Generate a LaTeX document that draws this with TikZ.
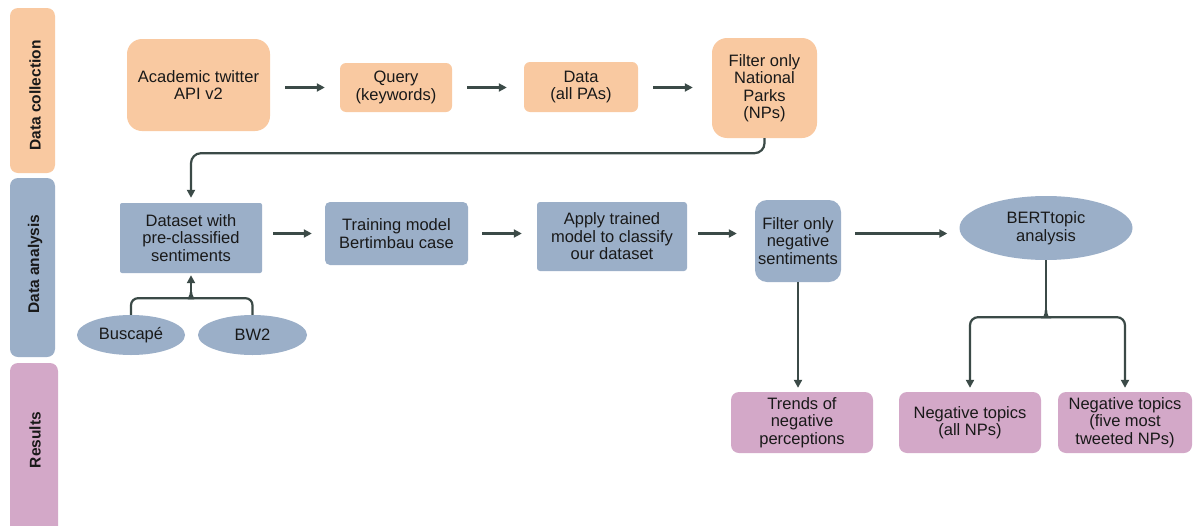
\documentclass[tikz,border=0pt]{standalone}
\usepackage{fontspec}
\setmainfont{Liberation Sans}
\usetikzlibrary{arrows.meta,shapes.geometric,calc}
\definecolor{corange}{HTML}{F9C9A1}
\definecolor{cblue}{HTML}{9BAFC8}
\definecolor{cpink}{HTML}{D3A8C8}
\definecolor{cline}{HTML}{3B4A47}
\begin{document}
\begin{tikzpicture}[x=1pt,y=-1pt,
  nbox/.style={draw=none, align=center, inner sep=0pt, font=\fontsize{16.5}{17.5}\selectfont, text=black!90},
  obox/.style={nbox, fill=corange},
  bbox/.style={nbox, fill=cblue},
  pbox/.style={nbox, fill=cpink},
  lanetext/.style={font=\fontsize{15.5}{18}\selectfont\bfseries, rotate=90, text=black!90},
  lnk/.style={draw=cline, line width=2.2pt},
  conn/.style={lnk, -{Triangle[length=8pt,width=8pt]}},
]
\useasboundingbox (0,0) rectangle (1194,525);
\fill[white] (0,0) rectangle (1194,525);

% lanes
\fill[corange, rounded corners=8] (10,8) rectangle (55,173);
\fill[cblue, rounded corners=8] (10,178) rectangle (55,357);
\fill[cpink, rounded corners=8] (10,363) rectangle (58,545);
\node[lanetext] (lcol) at (35,95.5) {Data collection};
\node[lanetext] (lana) at (35,264) {Data analysis};
\node[lanetext] (lres) at (35,440) {Results};

% top row
\node[obox, rounded corners=15pt, minimum width=143pt, minimum height=92pt] (acad) at (198.5,85) {Academic twitter\\API v2};
\node[obox, rounded corners=6pt, minimum width=112pt, minimum height=49pt] (query) at (396,87.5) {Query\\(keywords)};
\node[obox, rounded corners=6pt, minimum width=114pt, minimum height=50pt] (data) at (581,87) {Data\\(all PAs)};
\node[obox, rounded corners=15pt, minimum width=105pt, minimum height=100pt] (filtnp) at (764.5,88) {Filter only\\National\\Parks\\(NPs)};

% middle row
\node[bbox, rounded corners=2pt, minimum width=142pt, minimum height=70pt] (dataset) at (191,238) {Dataset with\\pre-classified\\sentiments};
\node[bbox, rounded corners=5pt, minimum width=143pt, minimum height=63pt] (train) at (396.5,233.5) {Training model\\Bertimbau case};
\node[bbox, rounded corners=3pt, minimum width=150pt, minimum height=69pt] (apply) at (612,236.5) {Apply trained\\model to classify\\our dataset};
\node[bbox, rounded corners=12pt, minimum width=86pt, minimum height=82pt] (filtneg) at (798,241) {Filter only\\negative\\sentiments};
\node[bbox, ellipse, minimum width=173pt, minimum height=64pt] (bert) at (1046,228) {BERTtopic\\analysis};
\node[bbox, ellipse, minimum width=108pt, minimum height=40pt] (busc) at (131,335) {Buscapé};
\node[bbox, ellipse, minimum width=109pt, minimum height=40pt] (bw2) at (252.5,335) {BW2};

% results row
\node[pbox, rounded corners=8pt, minimum width=142pt, minimum height=61pt] (trends) at (802,422.5) {Trends of\\negative\\perceptions};
\node[pbox, rounded corners=8pt, minimum width=142pt, minimum height=61pt] (negall) at (970,422.5) {Negative topics\\(all NPs)};
\node[pbox, rounded corners=8pt, minimum width=134pt, minimum height=61pt] (negfive) at (1125,422.5) {Negative topics\\(five most\\tweeted NPs)};

% top row arrows
\draw[conn, shorten <=15pt, shorten >=15pt] (acad.east |- query) -- (query.west);
\draw[conn, shorten <=15pt, shorten >=17pt] (query.east) -- (data.west |- query);
\draw[conn, shorten <=15pt, shorten >=19pt] (data.east |- query) -- (filtnp.west |- query);
\draw[conn, rounded corners=10pt, shorten >=5pt] (filtnp.south) -- ++(0,15) -| (dataset.north);

% middle row arrows
\draw[conn, shorten <=11pt, shorten >=13pt] (dataset.east |- train) -- (train.west);
\draw[conn, shorten <=14pt, shorten >=15pt] (train.east) -- (apply.west |- train);
\draw[conn, shorten <=11pt, shorten >=18pt] (apply.east |- train) -- (filtneg.west |- train);
\draw[conn, shorten <=14pt, shorten >=12pt] (filtneg.east |- train) -- (bert.west |- train);

% Buscape / BW2 brace
\coordinate (bj) at ($(dataset.south)+(0,19)$);
\draw[lnk, rounded corners=7pt] (busc.north) |- ($(bj)+(-8,6)$) .. controls ($(bj)+(-3,6)$) and ($(bj)+(0,4)$) .. (bj);
\draw[lnk, rounded corners=7pt] (bw2.north) |- ($(bj)+(8,6)$) .. controls ($(bj)+(3,6)$) and ($(bj)+(0,4)$) .. (bj);
\draw[conn, shorten >=2pt] (bj) -- (dataset.south);

% to results
\draw[conn, shorten >=4pt] (filtneg.south) -- (filtneg.south |- trends.north);
\coordinate (bj2) at ($(bert.south)+(0,50)$);
\draw[lnk] (bert.south) -- (bj2);
\draw[conn, rounded corners=8pt, shorten >=4pt] (bj2) .. controls ($(bj2)+(0,6)$) and ($(bj2)+(-3,7)$) .. ($(bj2)+(-9,7)$) -| (negall.north);
\draw[conn, rounded corners=8pt, shorten >=4pt] (bj2) .. controls ($(bj2)+(0,6)$) and ($(bj2)+(3,7)$) .. ($(bj2)+(9,7)$) -| (negfive.north);
\end{tikzpicture}
\end{document}
